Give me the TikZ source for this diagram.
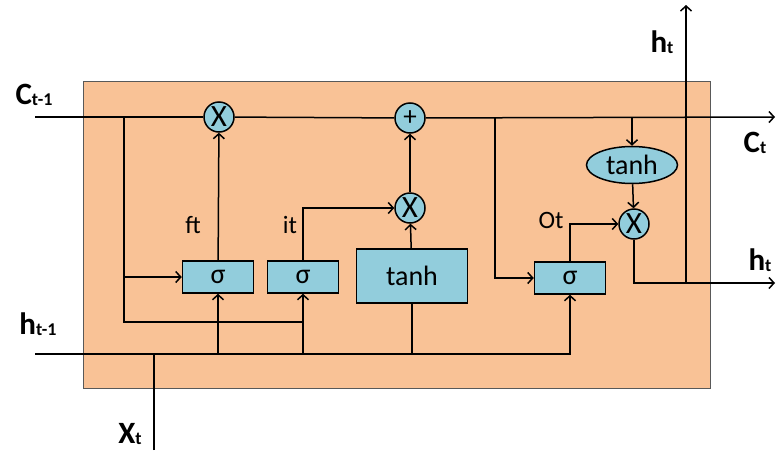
\documentclass[tikz,border=0pt]{standalone}
\usepackage{fontspec}
\setmainfont{Carlito}
\usetikzlibrary{arrows.meta,positioning,calc,shapes.geometric}
\definecolor{cellorange}{RGB}{249,194,150}
\definecolor{gateblue}{RGB}{146,205,220}
\newcommand{\iolabel}[2]{\textbf{#1\raisebox{-1pt}{\fontsize{18}{20}\selectfont #2}}}
\tikzset{
  wire/.style={line width=1.5pt, black},
  flow/.style={wire, -{Straight Barb[length=5pt,width=11pt,line width=1.5pt]}},
  gate/.style={draw, line width=1.5pt, fill=gateblue, minimum width=71pt,
               minimum height=32pt, inner sep=0pt, font=\fontsize{28}{30}\selectfont},
  op/.style={circle, draw, line width=1.5pt, fill=gateblue, minimum size=30pt,
             inner sep=0pt, font=\fontsize{31}{32}\selectfont},
  lbl/.style={font=\fontsize{25}{28}\selectfont},
  io/.style={font=\fontsize{31}{34}\selectfont},
}
\begin{document}
\begin{tikzpicture}[x=1pt, y=-1pt]
  \useasboundingbox (0,0) rectangle (779,450);
  % cell body
  \node[draw=gray!70!black, line width=0.7pt, fill=cellorange, minimum width=627pt,
        minimum height=307pt, inner sep=0pt] (cell) at (396.5,234.5) {};

  % gates and operators
  \node[op] (fmul) at (219,117) {X};
  \node[op, font=\fontsize{27}{28}\selectfont] (cadd) at (410,118) {+};
  \node[op] (imul) at (410,208) {X};
  \node[op] (omul) at (634,224) {X};
  \node[gate] (fsig) at (218,277) {σ};
  \node[gate] (isig) at (303,277) {σ};
  \node[gate, minimum width=111pt, minimum height=54pt] (ctanh) at (412,276) {tanh};
  \node[gate] (osig) at (570,278) {σ};
  \node[gate, ellipse, minimum width=91pt, minimum height=37pt] (htanh) at (632,165) {tanh};

  % ends and branch points
  \coordinate (cin) at (35,117);
  \coordinate (cout) at (775,117);
  \coordinate (hin) at (35,354);
  \coordinate (hout) at (775,283);
  \coordinate (hup) at (686,5);
  \coordinate (xin) at (154,450);
  \coordinate (fbr) at (124,117);
  \coordinate (jrow) at (124,322);
  \coordinate (obr) at (495,117);

  % cell state
  \draw[wire] (cin) -- (fmul);
  \draw[wire] (fmul) -- (cadd);
  \draw[flow] (cadd) -- (cout);

  % inputs
  \draw[wire] (fbr) -- (jrow) -- (jrow -| isig.south);
  \draw[flow] (fbr |- fsig.west) -- (fsig.west);
  \draw[flow] (hin) -| (osig.south);
  \draw[flow] (fsig.south |- hin) -- (fsig.south);
  \draw[flow] (isig.south |- hin) -- (isig.south);
  \draw[wire] (ctanh.south) -- (ctanh.south |- hin);
  \draw[wire] (xin) -- (xin |- hin);

  % gates
  \draw[flow] (fsig) -- (fmul);
  \draw[flow] (isig.north) |- (imul.west);
  \draw[flow] (ctanh) -- (imul);
  \draw[flow] (imul) -- (cadd);
  \draw[flow] (obr) |- (osig.west);
  \draw[flow] (osig.north) |- (omul.west);
  \draw[flow] (htanh.north |- cout) -- (htanh.north);
  \draw[flow] (htanh) -- (omul);
  \draw[flow] (omul.south) |- (hout);
  \draw[flow] (hup |- hout) -- (hup);

  % labels
  \node[lbl] (ftl) at (193,225) {ft};
  \node[lbl] (itl) at (290,225) {it};
  \node[lbl] (otl) at (551,220) {Ot};
  \node[io] (cinl) at (34,95) {\iolabel{C}{t-1}};
  \node[io] (hinl) at (38,324) {\iolabel{h}{t-1}};
  \node[io] (xinl) at (130,434) {\iolabel{X}{t}};
  \node[io] (coutl) at (755,143) {\iolabel{C}{t}};
  \node[io] (houtl) at (760,260) {\iolabel{h}{t}};
  \node[io] (hupl) at (662,42) {\iolabel{h}{t}};
\end{tikzpicture}
\end{document}
